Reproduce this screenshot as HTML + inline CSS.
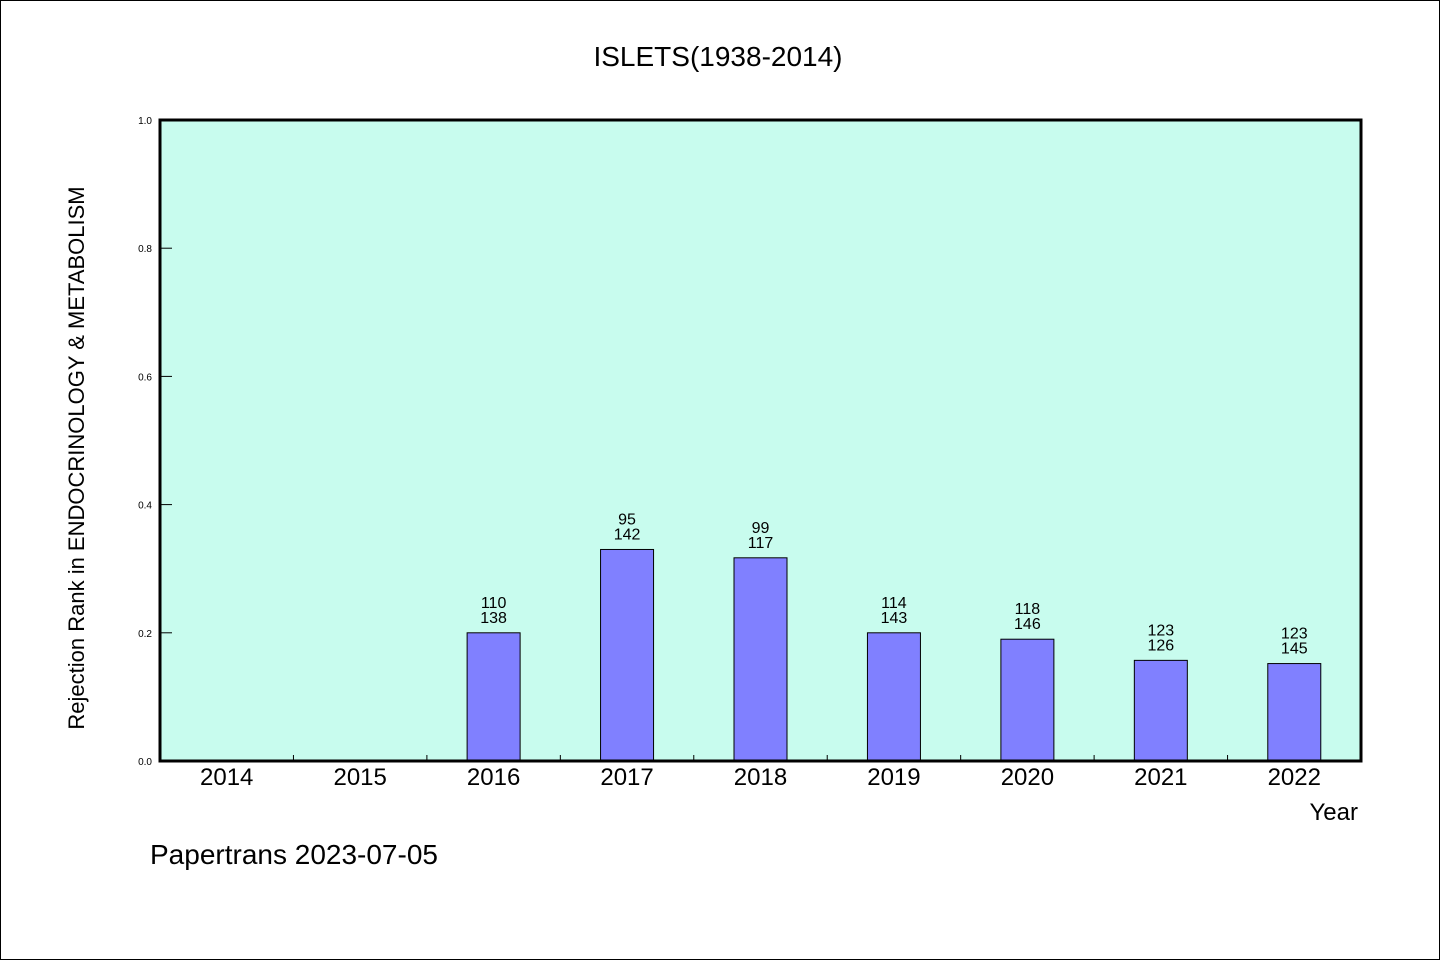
<!DOCTYPE html>
<html><head><meta charset="utf-8"><style>
body{margin:0;background:#fff}
svg text{font-family:"WenQuanYi Zen Hei","Liberation Sans",sans-serif;fill:#000}
</style></head><body>
<svg width="1440" height="960" xmlns="http://www.w3.org/2000/svg">
<rect x="0.5" y="0.5" width="1439" height="959" fill="#fff" stroke="#000"/>
<text x="718" y="66" font-size="28" text-anchor="middle">ISLETS(1938-2014)</text>
<rect x="160" y="120" width="1201" height="641" fill="#c8fcee"/>
<g id="marks"></g>
<rect x="160" y="120" width="1201" height="641" fill="none" stroke="#000" stroke-width="3"/>
<text transform="translate(84,458) rotate(-90)" font-size="22" text-anchor="middle">Rejection Rank in ENDOCRINOLOGY &amp; METABOLISM</text>
<text x="1358" y="820" font-size="24" text-anchor="end">Year</text>
<text x="150" y="864" font-size="28">Papertrans 2023-07-05</text>
</svg>
<script>
const categories=["2014","2015","2016","2017","2018","2019","2020","2021","2022"];
const values=[0,0,0.2,0.33,0.317,0.2,0.19,0.157,0.152];
const rankTop=["","","110","95","99","114","118","123","123"];
const rankBottom=["","","138","142","117","143","146","126","145"];
const yTicks=[0,0.2,0.4,0.6,0.8,1.0];
const L=160,R=1361,T=120,B=761;
const bw=(R-L)/categories.length;
const x=i=>L+bw*(i+0.5);
const y=v=>B-(B-T)*v;
const g=document.getElementById('marks');
const NS="http://www.w3.org/2000/svg";
function mk(t,a){const e=document.createElementNS(NS,t);for(const k in a)e.setAttribute(k,a[k]);return e;}
yTicks.forEach(v=>{
 const l=mk('line',{x1:L,x2:L+12,y1:y(v),y2:y(v),stroke:'#000','stroke-width':1});
 
 
 g.appendChild(l);
 const t=mk('text',{x:L-8,y:y(v)+4,'font-size':10,'text-anchor':'end'});
 t.textContent=v.toFixed(1);
 
 
 g.appendChild(t);
});
categories.forEach((c,i)=>{
 if(i>0){const l=mk('line',{x1:L+bw*i,x2:L+bw*i,y1:B,y2:B-6,stroke:'#000'});
 
 
 g.appendChild(l);}
 const t=mk('text',{x:x(i),y:B+24,'font-size':24,'text-anchor':'middle'});
 t.textContent=c;
 
 
 g.appendChild(t);
 if(values[i]>0){
  const r=mk('rect',{x:x(i)-26.5,y:y(values[i]),width:53,height:B-y(values[i]),fill:'#8080ff',stroke:'#000','stroke-width':1});
  
  
  g.appendChild(r);
  const t1=mk('text',{x:x(i),y:y(values[i])-25,'font-size':16,'text-anchor':'middle'});
  t1.textContent=rankTop[i];
  
  
  g.appendChild(t1);
  const t2=mk('text',{x:x(i),y:y(values[i])-10,'font-size':16,'text-anchor':'middle'});
  t2.textContent=rankBottom[i];
  
  
  g.appendChild(t2);
 }
});
</script>
</body></html>
